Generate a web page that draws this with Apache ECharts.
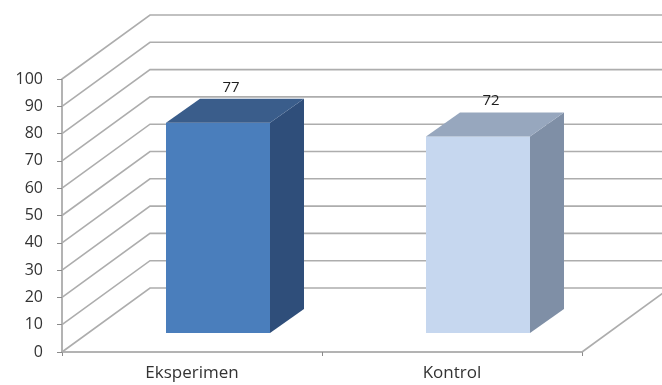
<!DOCTYPE html>
<html>
<head>
<meta charset="utf-8">
<script src="https://cdn.jsdelivr.net/npm/echarts@6/dist/echarts.min.js"></script>
<style>
  html, body { margin: 0; padding: 0; background: #fff; }
  #chart { width: 662px; height: 385px; }
</style>
</head>
<body>
<div id="chart"></div>
<script>
const categories = ['Eksperimen', 'Kontrol']
const values = [77, 72]
const yTicks = [0, 10, 20, 30, 40, 50, 60, 70, 80, 90, 100]

// colours for front / side / top of each bar
const faceColors = [
  { front: '#4A7EBC', side: '#2F4E7A', top: '#3A5D8B' },
  { front: '#C6D7EF', side: '#7F8FA6', top: '#97A7BE' }
]

// 3d offsets in px
const WALL_DX = 88
const WALL_DY = -64
const BAR_SHIFT_X = 26
const BAR_SHIFT_Y = -19
const BAR_DX = 34
const BAR_DY = -24
const gridColor = '#ADADAD'
const font = 'Open Sans'

const chart = echarts.init(document.getElementById('chart'))

function renderWall (params, api) {
  const cs = params.coordSys
  const v = api.value(1)
  const y = api.coord([0, v])[1]
  const style = { stroke: gridColor, lineWidth: 1.6, fill: null }
  const children = [{
    type: 'polyline',
    shape: { points: [[cs.x, y], [cs.x + WALL_DX, y + WALL_DY], [cs.x + cs.width + WALL_DX + 30, y + WALL_DY]] },
    style: style
  }]
  if (v === 0) {
    // right edge of the floor
    children.push({
      type: 'line',
      shape: { x1: cs.x + cs.width, y1: y, x2: cs.x + cs.width + WALL_DX, y2: y + WALL_DY },
      style: style
    })
  }
  return { type: 'group', children: children }
}

function renderBar (params, api) {
  const i = api.value(0)
  const v = api.value(1)
  const base = api.coord([i, 0])
  const top = api.coord([i, v])
  const band = api.size([1, 0])[0]
  const w = band * 0.4
  const cx = base[0] + BAR_SHIFT_X
  const L = cx - w / 2
  const R = cx + w / 2
  const yb = base[1] + BAR_SHIFT_Y
  const yt = top[1] + BAR_SHIFT_Y
  const c = faceColors[params.dataIndex]
  return {
    type: 'group',
    children: [
      {
        type: 'rect',
        shape: { x: L, y: yt, width: w, height: yb - yt },
        style: { fill: c.front }
      },
      {
        type: 'polygon',
        shape: { points: [[R, yt], [R + BAR_DX, yt + BAR_DY], [R + BAR_DX, yb + BAR_DY], [R, yb]] },
        style: { fill: c.side }
      },
      {
        type: 'polygon',
        shape: { points: [[L, yt], [L + BAR_DX, yt + BAR_DY], [R + BAR_DX, yt + BAR_DY], [R, yt]] },
        style: { fill: c.top }
      },
      {
        type: 'text',
        style: {
          text: String(v),
          x: cx + BAR_DX / 2 - 4,
          y: yt + BAR_DY - 4,
          textAlign: 'center',
          textVerticalAlign: 'bottom',
          fill: '#1E1E1E',
          font: '15px "' + font + '"'
        }
      }
    ]
  }
}

const option = {
  animation: false,
  grid: { left: 62, right: 80, top: 79, bottom: 33 },
  xAxis: {
    type: 'category',
    data: categories,
    axisLine: { lineStyle: { color: '#9A9A9A', width: 1.5 } },
    axisTick: { show: true, length: 4, lineStyle: { color: '#8A8A8A' } },
    axisLabel: { color: '#333', fontFamily: font, fontSize: 17, margin: 13 },
    splitLine: { show: false }
  },
  yAxis: {
    type: 'value',
    min: 0,
    max: 100,
    interval: 10,
    axisLine: { show: true, lineStyle: { color: '#9A9A9A', width: 1.5 } },
    axisTick: { show: true, length: 5, lineStyle: { color: '#8A8A8A' } },
    axisLabel: { color: '#333', fontFamily: font, fontSize: 16, margin: 19 },
    splitLine: { show: false }
  },
  series: [
    {
      type: 'custom',
      silent: true,
      clip: false,
      z: 1,
      renderItem: renderWall,
      data: yTicks.map(v => [0, v])
    },
    {
      type: 'custom',
      silent: true,
      clip: false,
      z: 3,
      renderItem: renderBar,
      data: values.map((v, i) => [i, v])
    }
  ]
}

chart.setOption(option)
</script>
</body>
</html>
